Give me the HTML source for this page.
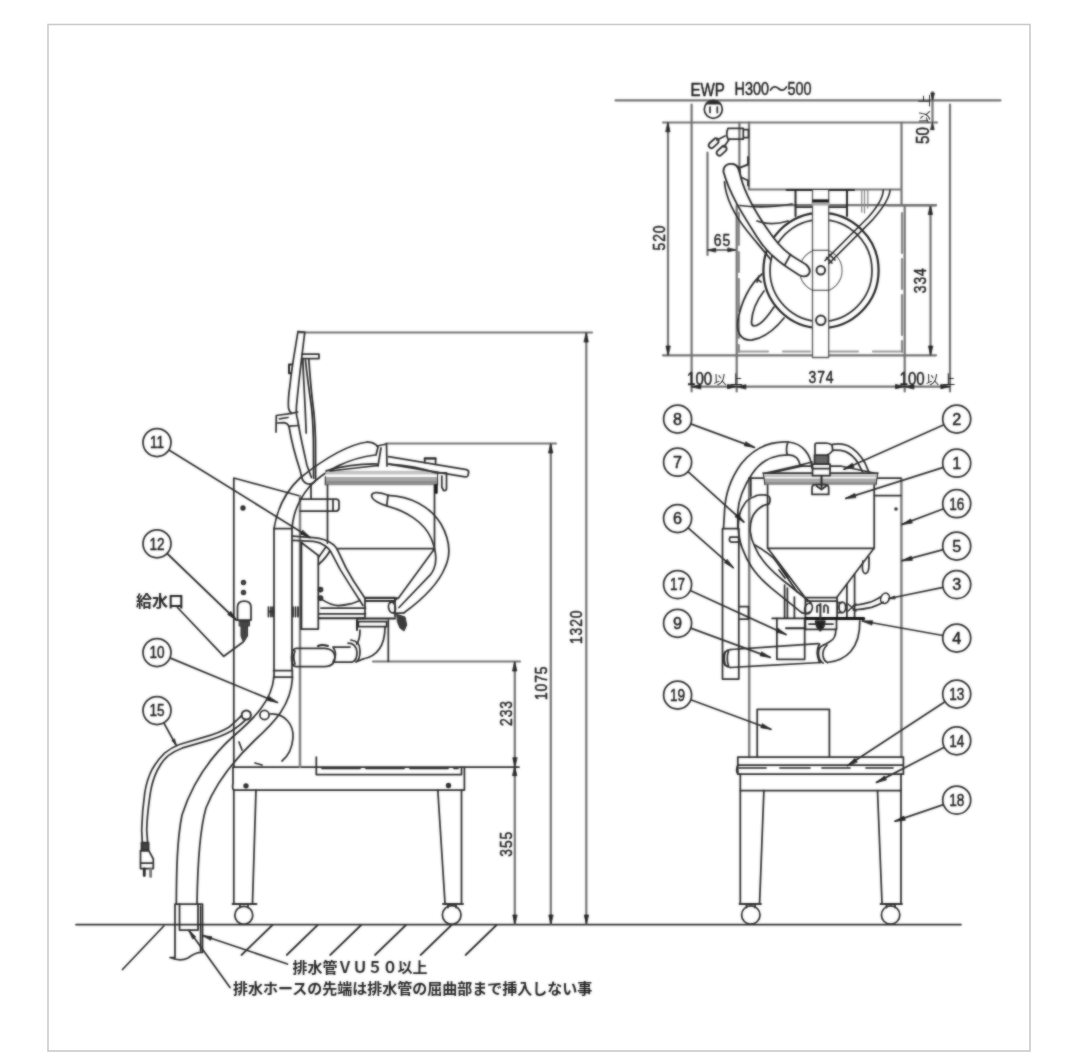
<!DOCTYPE html>
<html><head><meta charset="utf-8"><title>drawing</title>
<style>
html,body{margin:0;padding:0;background:#fff;}
body{width:1080px;height:1052px;overflow:hidden;font-family:"Liberation Sans",sans-serif;}
svg{display:block}
.t{font-family:"Liberation Sans",sans-serif;fill:#1c1c1c;stroke:#1c1c1c;stroke-width:0.5}
.j{font-family:"Liberation Sans","Noto Sans CJK JP",sans-serif;fill:#222;stroke:none}
.g{stroke:#2c2c2c;stroke-width:1.75;fill:none;stroke-linecap:round;stroke-linejoin:round}
.d{stroke:#727272;stroke-width:2.2}
.k{stroke:#222;stroke-width:2}
</style></head><body>
<svg width="1080" height="1052" viewBox="0 0 1080 1052">
<rect x="0" y="0" width="1080" height="1052" fill="#fff"/>
<rect x="48" y="24.5" width="982" height="1026.5" fill="none" stroke="#cbcbcb" stroke-width="1.6"/>
<g class="g" filter="url(#soft)">
<defs><filter id="soft" filterUnits="userSpaceOnUse" x="0" y="0" width="1080" height="1052" color-interpolation-filters="sRGB"><feGaussianBlur in="SourceGraphic" stdDeviation="0.9" result="b"/><feComposite in="b" in2="SourceGraphic" operator="arithmetic" k1="0" k2="0.6" k3="0.4" k4="0"/></filter></defs>
<!-- p_left -->
<path d="M76,924.5 H961"/>
<path d="M163.8,926 L122.5,969.5"/>
<path d="M272.5,925 L241.5,955"/>
<path d="M317.7,925 L286.7,955"/>
<path d="M361.2,925 L330.2,955"/>
<path d="M406.0,925 L375.0,955"/>
<path d="M451.6,925 L420.6,955"/>
<path d="M496.6,925 L465.6,955"/>
<g class="d">
<path d="M300,332.5 H592"/>
<path d="M386,443.5 H556"/>
<path d="M373,661.5 H520"/>
<path d="M586.3,333 V924"/>
<path d="M550.8,444 V924"/>
<path d="M514.8,662 V924"/>
</g>
<path d="M586.3,333.0 L588.3,342.0 L584.3,342.0 Z" fill="#222" stroke="#222" stroke-width="0.8"/>
<path d="M586.3,924.0 L584.3,915.0 L588.3,915.0 Z" fill="#222" stroke="#222" stroke-width="0.8"/>
<path d="M550.8,444.0 L552.8,453.0 L548.8,453.0 Z" fill="#222" stroke="#222" stroke-width="0.8"/>
<path d="M550.8,924.0 L548.8,915.0 L552.8,915.0 Z" fill="#222" stroke="#222" stroke-width="0.8"/>
<path d="M514.8,662.0 L516.8,671.0 L512.8,671.0 Z" fill="#222" stroke="#222" stroke-width="0.8"/>
<path d="M514.8,766.7 L512.8,757.7 L516.8,757.7 Z" fill="#222" stroke="#222" stroke-width="0.8"/>
<path d="M514.8,766.7 L516.8,775.7 L512.8,775.7 Z" fill="#222" stroke="#222" stroke-width="0.8"/>
<path d="M514.8,924.0 L512.8,915.0 L516.8,915.0 Z" fill="#222" stroke="#222" stroke-width="0.8"/>
<text transform="translate(582.3,627.3) rotate(-90) scale(0.88,1) translate(0.50,0)" text-anchor="middle" class="t" font-size="15.8" letter-spacing="1.00">1320</text>
<text transform="translate(547.2,683.3) rotate(-90) scale(0.88,1) translate(0.50,0)" text-anchor="middle" class="t" font-size="15.8" letter-spacing="1.00">1075</text>
<text transform="translate(511.6,713.5) rotate(-90) scale(0.88,1) translate(0.50,0)" text-anchor="middle" class="t" font-size="15.8" letter-spacing="1.00">233</text>
<text transform="translate(511.6,844.2) rotate(-90) scale(0.88,1) translate(0.50,0)" text-anchor="middle" class="t" font-size="15.8" letter-spacing="1.00">355</text>
<path d="M233.8,767 H519"/>
<path d="M233,767 V784 Q232,787 233.5,790 H464.4 V767"/>
<path d="M316.3,757 V774.5 H461.5 V767"/>
<path d="M322,768.3 H458" stroke-dasharray="38 6"/>
<path d="M233.8,790 L233.8,903 M256,790 L252.5,903"/>
<path d="M461.5,790 V903 M437.8,790 L445,903"/>
<path d="M232.5,904 H256.5 M443,904 H463" stroke-width="1.8"/><path d="M240,904 V907.5 M248,904 V907.5 M448,904 V907.5 M456,904 V907.5"/>
<circle cx="243.8" cy="915.3" r="9"/><circle cx="451.7" cy="915" r="9.3"/>
<circle cx="246" cy="785.8" r="1.8" fill="#333"/><circle cx="448.5" cy="785.5" r="1.8" fill="#333"/>
<path d="M233.8,767 V478 L300,496"/>
<path d="M300,496 V767" stroke="#808080" stroke-width="2.5"/>
<circle cx="243" cy="508" r="1.8" fill="#333"/><circle cx="243.5" cy="582.5" r="1.8" fill="#555"/><circle cx="243.5" cy="592.5" r="1.8" fill="#555"/>
<path d="M237.5,620 V607 Q237.5,601 244.2,601 Q251,601 251,607 V620 Z"/>
<path d="M239.5,621 H249.5 V626 H247.5 V636 L243.5,642.5 L241,636 V626 H239.5 Z" fill="#444" stroke-width="1"/>
<path d="M274,528.5 V670.5 M292,528.5 V670.5 M274,528.5 H292 M273.5,670.5 H292.5 M273.5,677 H292.5 M274,670.5 V677.5 M292.3,670.5 V677.5"/>
<path d="M268.5,607 V616.5 M271,607 V616.5 M273,607 V616.5 M268.5,611.5 H274" /><path d="M293,607 V616.5 M295.5,607 V616.5 M298,607 V616.5"/>
<path d="M367.5,442 C345,445 320,462 300,478 C285,492 277,510 274,528.5"/>
<path d="M375,455 C350,458 325,470 310,486 C298,500 293,515 292,528.5"/>
<path d="M367.5,442 C372,442 376,444 378,447 L376,455"/>
<path d="M377,446 L386.5,444 L387,466 M381,448 L378,466"/>
<path d="M298,331.6 L304.8,332 L301.9,356 C300,372 298,390 296.5,405.6 C296,412 297,418 297.7,420 C300,435 304,452 307,465.5 L311.4,477.5"/>
<path d="M298,331.6 C295,350 292,365 290,385 C288.5,395 288,402 288.5,408 C289.5,412 291,413 291.7,413.3"/>
<path d="M289,426.5 C291.5,442 296,458 300.2,470.6 L301.6,477 Q303,483 308,484 Q313,484.5 315.5,480.5"/>
<path d="M291.7,364.5 H289 V373.2 H290.8" class="k"/>
<path d="M297.6,412 L291.7,413.3 L276.3,415.5 L276,432 M277.5,423 L284,422.6 Q287.5,423 289,426.5 M290,426.2 L298.6,425.5 M279.5,418.8 L288,417.5"/>
<path d="M302,354.2 H319 V358.5 H302.5"/>
<path d="M302.8,359.4 C303.5,380 305,400 306.2,433"/>
<path d="M308.8,359.4 C310,375 311,390 313,405.6 C314.5,415 315,425 315.5,440 L315.6,479"/>
<path d="M305.4,360 C307,375 309,390 311.3,405.6 C312.5,415 313,425 313.4,440 L313.6,478"/>
<rect x="325.5" y="470.8" width="112" height="3.7" fill="#c2c2c2" stroke="none"/>
<rect x="325.3" y="477" width="112.3" height="4" fill="#a6a6a6" stroke="none"/>
<rect x="325.3" y="481" width="112.3" height="4.2" fill="#8c8c8c" stroke="none"/>
<path d="M325.3,476.5 V485 M437.6,472 V485" stroke-width="1.1"/>
<path d="M327.5,485 V543 M434.5,485 V548.7 H338 M434.5,548.7 L398.3,598.3 M365,598 H398.3 M365,601 H395"/>
<path d="M388.6,456.6 L466.5,469.6 Q469,470.5 468.6,472.5 L468,475.5 Q467.3,477.3 465,476.8 L388.6,464.2"/>
<path d="M424.7,462.5 V458.3 H435.6 V464.3"/><path d="M424.7,458.6 H435.6" stroke-width="2" stroke="#222"/>
<path d="M326,470.8 Q352,463.5 377,464 M389,464.2 Q415,466 436,473 M330,471 L378,465.5"/>
<path d="M438,472.8 H446.5 V489 Q446,491 443.5,490.5 L441.8,487 V476"/>
<path d="M436.3,485.5 V492.5" stroke-width="2.8" stroke="#111"/>
<path d="M388,495.3 C378,491 371,492.5 371.7,496 C372,500 380,504 386.7,505.8 C406,511 424,522 431,538 C436,550 437,561 434,568.5 C432.5,572.5 431,574 430,575.2 L399,607.5"/>
<path d="M388,495.3 C410,496 430,506 441,524 C450,540 451,555 445,567.5 C440,580 427,596 404,612.8"/>
<path d="M388,495.3 L386.7,505.8"/>
<path d="M300,499 H336 Q339,499 339,502 V508 Q339,511 336,511 H300 M333,499 V511"/>
<path d="M311,484 V499"/>
<path d="M301.6,542.8 L318.3,555.5 V629 H301.6"/>
<path d="M301.3,543 V629" class="k"/>
<path d="M292.6,536.2 L313.5,537.6 C320,538 328,540.5 333.5,544.7 C336,547 337.5,549.5 338.2,551.4 L345.8,567.5 L353.4,580.8 L364.8,598" stroke-width="1.8"/>
<path d="M292.6,540.4 L313.5,541.4 C318,542 322,543.5 325,545.7 C327.5,547.5 329.5,549.5 330.6,551.4 L340.1,569.4 L349.6,584.6 L363,605.5"/>
<path d="M318.5,557.5 Q323,551 325.5,547.5 M318.5,564.5 Q326,558 329.5,551.5"/>
<path d="M321,608 H365.5 M319,613.8 H365.5"/>
<path d="M319,618.3 H365" stroke-width="1.9" stroke="#222"/>
<path d="M321,598.9 C327,603 333,605.5 338.2,605.6 C343,605.5 348,604.5 351.5,603.7 L360,600.5"/>
<circle cx="320.5" cy="589.5" r="2" fill="#444"/><circle cx="320.5" cy="598" r="2" fill="#444"/>
<path d="M365,597.5 H395 V616.7 M365,597.5 V616.7 M365,600.8 H395"/>
<path d="M358,618.5 H395" class="k"/>
<path d="M358.3,621.7 H386.7 V626.7 H358.3 Z"/>
<path d="M357,620 V630" class="k" stroke-width="3"/>
<path d="M385,626.7 C385,645 378,656 363,659"/>
<path d="M360,630 C360,638 359,641 356.7,644"/>
<path d="M348,643 Q356,643 357,652 Q357,661 352,662 M351,640 Q360,641 360,651 Q360,660 356,662 L363,659"/>
<path d="M333,647 H350 M333,662 H352 M333,647 Q338,654 333,662"/>
<path d="M296,648.3 H325 Q335,649 335,657.5 Q335,666 325,666.7 H296 Q291.5,666 291.5,657.5 Q291.5,649 296,648.3 Z"/>
<path d="M295,651 Q292.5,657 295,664"/>
<path d="M318,646 Q322,644 328,646" class="k"/>
<path d="M388.3,620 V661.3"/>
<ellipse cx="392" cy="607.6" rx="3.4" ry="5.4" transform="rotate(-12 392 607.6)"/><path d="M393,602 L397,598.5 M394,613.3 L404,612.8"/>
<path d="M397,614.5 L405,617 L406.7,625 L404,631 L400,628 L397.5,622 Z" fill="#3a3a3a" stroke-width="1"/>
<path d="M273.8,677.5 C272,700 255,718 232.5,737 C205,762 190,790 182,815 C177,840 176.5,870 176.3,904"/>
<path d="M292.5,677.5 C291,705 275,722 255,740 C232,762 215,785 206,808 C199,832 197.5,870 197,904"/>
<path d="M175,904 H202.5 V952.5 C197,952 192,955 188,958 C182,961 176,960 170,957.5 L175,957.5 Z"/>
<path d="M179.5,904 V930 H198 V904"/>
<path d="M200.6,906 V951" stroke-width="1.7"/>
<circle cx="246.3" cy="715" r="4.6" stroke-width="2"/><circle cx="264.5" cy="715" r="4.6"/>
<path d="M270,714 C285,713 294,725 293,738 C292,750 287,757 282,761"/>
<path d="M239,742 L242,750 M255,763 L262,765"/>
<path d="M241.2,716 C237,720 233,724 228.9,727.2 C221,732 212,735 204.2,737.1 L179.4,744.5 C174,746.5 169,749.5 164.6,753.2 C159.5,758 155.5,763.5 152.2,769.2 C148.5,776.5 146,785 144.8,792.7 C143,805 142,818 141.7,830 L142.3,842.6"/>
<path d="M245,720.4 C241,724.5 236,728 231.4,730.9 C223,735.5 214.5,738.5 206.6,740.8 L181.9,748.2 C177,750 172.5,752.5 168.3,755.6 C163.5,759.5 160,765 157.2,770.5 C153.5,778 151.5,785.5 150.4,792.7 C148.5,805 147,818 146.7,830 L147.6,842.6"/>
<path d="M141.5,842.6 H148.6 V850.6 H141.5 Z" fill="#444"/>
<path d="M140.5,850.6 H148.8 L153.3,859 V868.6 H140.5 Z"/>
<path d="M144.3,869 V875.5" stroke-width="2.8" stroke="#222"/><path d="M150.6,869 V876.5" stroke-width="2.8" stroke="#777"/>
<path d="M141,863 H153" />
<!-- p_top -->
<g class="d">
<path d="M615.5,100.3 H1000.5"/>
<path d="M691.6,104.5 V391.5 M950,104.5 V391.5"/>
<path d="M663,122.5 H937 M663,355.3 H936"/>
<path d="M668,123 V355"/>
<path d="M887,205.3 H936 M930.5,205.5 V355"/>
<path d="M707.5,152.5 V255 M707.5,250 H736"/>
<path d="M691.6,386.7 H950 M736.7,356 V391.5 M904.7,356 V391.5"/>
<path d="M932.5,92 V122.5"/>
</g>
<path d="M668.0,122.8 L670.0,131.8 L666.0,131.8 Z" fill="#222" stroke="#222" stroke-width="0.8"/>
<path d="M668.0,355.0 L666.0,346.0 L670.0,346.0 Z" fill="#222" stroke="#222" stroke-width="0.8"/>
<path d="M930.5,205.6 L932.5,214.6 L928.5,214.6 Z" fill="#222" stroke="#222" stroke-width="0.8"/>
<path d="M930.5,355.0 L928.5,346.0 L932.5,346.0 Z" fill="#222" stroke="#222" stroke-width="0.8"/>
<path d="M707.7,250.0 L715.7,248.2 L715.7,251.8 Z" fill="#222" stroke="#222" stroke-width="0.8"/>
<path d="M735.8,250.0 L727.8,251.8 L727.8,248.2 Z" fill="#222" stroke="#222" stroke-width="0.8"/>
<path d="M691.8,386.7 L700.8,384.7 L700.8,388.7 Z" fill="#222" stroke="#222" stroke-width="0.8"/>
<path d="M736.5,386.7 L727.5,388.7 L727.5,384.7 Z" fill="#222" stroke="#222" stroke-width="0.8"/>
<path d="M736.9,386.7 L745.9,384.7 L745.9,388.7 Z" fill="#222" stroke="#222" stroke-width="0.8"/>
<path d="M904.5,386.7 L895.5,388.7 L895.5,384.7 Z" fill="#222" stroke="#222" stroke-width="0.8"/>
<path d="M904.9,386.7 L913.9,384.7 L913.9,388.7 Z" fill="#222" stroke="#222" stroke-width="0.8"/>
<path d="M949.8,386.7 L940.8,388.7 L940.8,384.7 Z" fill="#222" stroke="#222" stroke-width="0.8"/>
<path d="M932.5,100.0 L930.8,93.0 L934.2,93.0 Z" fill="#222" stroke="#222" stroke-width="0.8"/>
<path d="M932.5,122.7 L934.2,129.7 L930.8,129.7 Z" fill="#222" stroke="#222" stroke-width="0.8"/>
<text transform="translate(664.5,238.0) rotate(-90) scale(0.88,1) translate(0.50,0)" text-anchor="middle" class="t" font-size="15.8" letter-spacing="1.00">520</text>
<text transform="translate(926.3,280.7) rotate(-90) scale(0.88,1) translate(0.50,0)" text-anchor="middle" class="t" font-size="15.8" letter-spacing="1.00">334</text>
<text transform="translate(722.0,246.0) scale(0.88,1) translate(0.50,0)" text-anchor="middle" class="t" font-size="15.8" letter-spacing="1.00">65</text>
<text transform="translate(821.0,382.7) scale(0.88,1) translate(0.50,0)" text-anchor="middle" class="t" font-size="15.8" letter-spacing="1.00">374</text>
<circle cx="713.3" cy="109.3" r="9"/>
<path d="M706.5,103.8 Q713.3,98.5 720,103.8 Z" fill="#222" stroke-width="1.5"/>
<path d="M710,107 V112.5 M717.3,107 V112.5"/>
<path class="d" d="M739.4,122.5 V205 M749,122.5 V189.5 H901.5 V122.5 M901.5,189.5 V205"/>
<path class="d" d="M736.7,205 V356 M904.7,205 V356"/>
<path class="d" d="M740,205.2 H936"/>
<path d="M738.8,213 V352" stroke="#888" stroke-width="2.2" stroke-dasharray="32 7 20 7"/>
<path d="M902,213 V352" stroke="#888" stroke-width="2.2" stroke-dasharray="40 6 30 6"/>
<path d="M740,351.5 H900" stroke="#999" stroke-width="2.2" stroke-dasharray="28 15 27 20"/>
<path d="M730,164.3 Q734.5,164.5 739.5,167.8 L748,164.5 V157 M739.5,168 L740.5,177 L748,180.5 V185.5" stroke-width="1.9"/>
<path d="M728,128.3 H743.3 V139.2 H728 Q725.5,133.7 728,128.3 Z M743.3,129.5 H748.5 V137.5 H743.3"/>
<rect x="-5.5" y="-2.6" width="11.5" height="5.6" rx="2.8" transform="translate(713.3,143.3) rotate(-42)" stroke-width="1.9"/>
<rect x="-5.5" y="-2.6" width="11.5" height="5.6" rx="2.8" transform="translate(721.3,150.8) rotate(-42)" stroke-width="1.9"/>
<path d="M717,140 L725,136 M724,147 L729,139.5"/>
<path d="M786.7,190 H854" class="k"/>
<path d="M795.5,190 V216 M847,190 V216" class="k" stroke-width="2.4"/>
<path d="M861.7,190 V212 M864.5,190 V213 M867.8,190 V208" stroke="#8a8a8a" stroke-width="1.3"/>
<path d="M796,207 H812 M829,207 H847"/>
<circle cx="821" cy="270.5" r="57.6" stroke-width="2.2" stroke="#222"/>
<circle cx="821" cy="270.5" r="51"/>
<circle cx="820.8" cy="270.5" r="21.3" stroke="#666" stroke-width="1.1"/>
<path d="M812.5,190 V357.5 H828.7 V190" fill="#fff" stroke="#555" stroke-width="1.3"/>
<path d="M812.5,201 H828.7" stroke="#111" stroke-width="3.2" stroke-linecap="butt"/>
<path d="M812.5,250.3 H828.7 M812.5,290.3 H828.7" stroke-width="1.1"/>
<path d="M813,204 H828.5" stroke="#aaa" stroke-width="3"/>
<circle cx="820.8" cy="270.3" r="4.3" stroke-width="2" fill="#fff"/>
<circle cx="820.8" cy="320.3" r="4.8" stroke-width="2" fill="#fff"/>
<path d="M890,190 C889.5,199 882,209 873,219.3 L829,263.5 M883.3,190 C883,199 876.5,208 868,217.5 L825,260.5" stroke-width="1.7"/>
<path d="M826.5,257.5 L832,263 M829.5,254.5 L835,260" stroke-width="1.7"/>
<path d="M723.5,172 C723,165 728,163.5 733,164 C738,164.5 739,170 741,178 C746,196 756,214 773,237 C781,248 790,255 797,259 L806,264.5 Q812,270 808.5,274.5 Q805,278 799,275 L789,268.5 C776,260 765,250 757,237 C743,215 730,195 723.5,172 Z" fill="#fff" stroke-width="1.9"/>
<path d="M790.5,254.5 L785,264.5"/>
<path d="M724.5,182 C726,200 735,216 748,232 C756,242 765,252 771,260" stroke-width="1.8"/>
<path d="M740,205.5 C760,208.5 775,207 792,204"/>
<path d="M757,221 C768,225 778,224 788,221"/>
<path d="M762,274 C750,284 741,302 738,320 C736,334 742,341 752,340 C764,338 776,328 784,318" stroke-width="1.8"/>
<path d="M764,291 C757,300 752,312 751.5,322 C751.5,327 755,327 760,323.5 C765,320 770,313 774,307" stroke-width="1.8"/>
<path d="M757,279 L761,282 M759,276 L757,282"/>
<!-- p_front -->
<path d="M749.2,478.5 V757 M901.4,479 V757" stroke="#808080" stroke-width="2.5"/>
<path d="M749,478.2 H763.5 M877.8,478.2 H901 M874.5,495.6 H901"/>
<circle cx="896" cy="509" r="0.9" fill="#444"/>
<path d="M722.5,528.5 V679 H738.8 V528.5 M722.5,528.5 H738.8"/>
<path d="M739.5,606.5 H748.5 V619 H739.5"/>
<path d="M730,537 H737 Q739.5,537 739.5,539.5 Q739.5,542 737,542 H731 Q728.5,541 730,537 Z"/>
<path d="M763.2,473 H877.8"/>
<rect x="763.5" y="474.3" width="114" height="2.8" fill="#c4c4c4" stroke="none"/>
<rect x="764" y="478.5" width="113" height="3" fill="#a6a6a6" stroke="none"/>
<rect x="764.5" y="481.5" width="112" height="3.4" fill="#8c8c8c" stroke="none"/>
<path d="M763.2,473 L765,484.8 M877.8,473 L876,484.8" stroke-width="1.1"/>
<path d="M773,472.5 L802.8,466 H840.4 L874,473 M766,473 L803,464.5 M770,473 L812,462"/>
<path d="M767.6,485 V548.3 H874.2 V485"/>
<path d="M767.8,548.3 L805.4,598 M874,548.3 L837.1,597"/>
<path d="M805.4,597.5 H837.1 V617.8 M805.4,597.5 V617.8 M805.4,601 H837.1"/>
<path d="M815,454.5 V445 Q815,443 817,443 H826 Q830,443.5 832,445 L832.8,450.5 Q830,454 827.4,454.8"/>
<path d="M814.5,455 H828.5 V464 H814.5 Z" fill="#666"/>
<path d="M812.5,464 H830 V475.6 H812.5 Z" fill="#fff"/>
<path d="M812.5,468.5 H830" />
<path d="M832.6,444.4 C838,443.5 844,444 848,445.7 C855,449 861,456 865,463 L869,472.3"/>
<path d="M832.6,450.3 C838,450 842,450.5 845.6,451.6 C851,454 855,458 858,463 L862.4,471.7"/>
<path d="M821.5,476 V487" class="k" stroke-width="2.4"/>
<path d="M812,494.4 V488 Q812,484.6 815.5,484.6 H825 Q828.7,484.6 828.7,488 V494.4 Z"/>
<path d="M816.5,486 L821.5,489.5 L826,486" stroke-width="2"/>
<path d="M811.9,467.8 C811,455 803,443.5 788.5,442 C768,441 752,450 741,464 C731,478 725,495 724.5,512 L723.5,528.5"/>
<path d="M800.2,465.2 C799,458 794,455 788.5,454.8 C772,454.5 760,462 752,474 C744,486 738.5,500 737.8,512 V528.5"/>
<path d="M788,442 Q785.5,448 787.2,454.8"/>
<path d="M765,495 C760,494.5 756,495.5 754.8,496.5 C750,498 746.5,500.5 744.5,503.9 C741,509 739.5,513 739.3,517.1 C738,522 738,527 738.6,531.9 C739,537.5 740,543 742.2,548.1 C744.5,554.5 747.5,561 751.8,567.2 C757,575 763.5,581.5 771,587.8 L801.9,612.9"/>
<path d="M768.8,503.9 C765,504.5 762,506 759.2,508.3 C756,511 753,515 751.8,518.6 C750.3,523 750,527.5 750.3,531.9 C750.8,537 752.5,542 754.8,546.6 C757,552 760,557 763.6,561.3 C768.5,568 775,573.5 781.3,579 L810.7,602.5"/>
<path d="M765,495 Q770.5,495.5 770,500 Q769.8,503.5 768.8,503.9"/>
<path d="M754.8,545 C762,549 768,553 773.9,558.4 C780,566 790,582 797.5,592.2"/>
<path d="M750.8,478 V496"/>
<ellipse cx="808.5" cy="608.5" rx="3.6" ry="5.4" transform="rotate(20 808.5 608.5)"/>
<path d="M802,612.5 Q806,615 810,612"/>
<path d="M784.6,585 V618 M787.4,588 V618 M794.4,597 V618"/>
<path d="M846.9,584 V618 M854.6,574 V618"/>
<path d="M779,570 L785,578 M782,569 L788,577"/>
<path d="M863,561 Q861,572 865,573.5 Q869,573.5 869,565 L869,557"/>
<path d="M772.3,618.4 H806" stroke-width="1.8" stroke="#222"/>
<path d="M805.4,618.6 H863.7" stroke-width="3" stroke="#111"/>
<path d="M805.4,620.4 V629.4 H836.5 V620.4 M809,624 H833"/>
<path d="M820.4,604 V619" stroke-width="2"/>
<path d="M815.7,621 Q815.7,627 820.3,630.7 Q824.8,627 824.8,621 Z" fill="#222"/>
<path d="M817,612 V606 Q819,603.5 820.4,606 M824,612 V606 Q826,604 828,607 V613"/>
<ellipse cx="842.3" cy="607.3" rx="3.4" ry="5.3"/>
<path d="M838,602.5 H842 M838,612.5 H842"/>
<path d="M848,604 L856,611 M848,611 L856,604" stroke-width="1.6"/>
<path d="M853.3,605.5 C860,605 866,603.5 870.2,602.2 C875,600.5 878,598.5 880.6,597"/>
<path d="M853.3,610 C861,609.5 867,608.5 871.5,607.4 C877,605.5 881,603.5 883.2,602.2"/>
<ellipse cx="885" cy="598.3" rx="4.2" ry="5.3" transform="rotate(25 885 598.3)" stroke-width="1.6"/>
<path d="M776.9,618.4 V659.3 H804.7 V618.4"/>
<path d="M786,628.2 H804.7" stroke-width="2" stroke="#222"/>
<path d="M730.7,649.5 L818.3,643.7 M730.7,667.5 L821,662.5"/>
<path d="M730.7,649.5 Q723.5,650 723.5,658.5 Q723.5,667 730.7,667.5 M728.5,651 Q726,658 728.5,666" />
<path d="M725,652 Q723.2,658 725,665" stroke-width="2"/>
<path d="M859.8,621 C860,633 858,643 850.7,651.5 C845,658 837,661.5 827.4,662.5"/>
<path d="M835.8,629.4 C836,636 833,640 830,641.5 C827,643.5 825,644.5 823.5,645"/>
<path d="M823.5,645 Q818,647 818.5,654 Q819,661 823,663 M827,645 Q822,650 823,656 Q824,661 827.4,662.5 M819.5,644 Q815,652 819.5,662.5"/>
<path d="M757.2,757 V709.3 H829.4 V757"/>
<path d="M737.8,757 H903.4 V774.2 H737.8 Z M737.8,765 H903.4"/>
<path d="M739,768 H902" stroke="#555" stroke-width="1.8" stroke-dasharray="27 14 30 12 28 16"/>
<path d="M737.8,765 Q735.5,770 737.8,774.2"/>
<path d="M740.3,774.2 V790.5 H901 V774.2"/>
<path d="M740.3,790.5 V903 M763.9,790.5 L759.6,903 M901,790.5 V903 M877.5,790.5 L882,903"/>
<path d="M739.5,904 H761 M880.5,904 H902" stroke-width="1.8"/><path d="M746.5,904 V907.5 M755,904 V907.5 M886.5,904 V907.5 M895,904 V907.5"/>
<circle cx="750.8" cy="915" r="9.2"/><circle cx="890.6" cy="915" r="9.2"/>
<!-- p_labels -->
<path d="M168.9,449.9 L310.0,537.5"/><path d="M310.0,537.5 L300.4,533.9 L302.6,530.5 Z" fill="#222" stroke="#222" stroke-width="0.8"/>
<circle cx="157.0" cy="442.5" r="14.0" fill="#fff"/><text transform="translate(157.0,448.3) scale(0.84,1)" text-anchor="middle" class="t" font-size="16.2">11</text>
<path d="M167.1,553.5 L236.3,620.0"/><path d="M236.3,620.0 L227.7,614.5 L230.5,611.6 Z" fill="#222" stroke="#222" stroke-width="0.8"/>
<circle cx="157.0" cy="543.8" r="14.0" fill="#fff"/><text transform="translate(157.0,549.6) scale(0.84,1)" text-anchor="middle" class="t" font-size="16.2">12</text>
<path d="M169.9,657.9 L277.5,702.5"/><path d="M277.5,702.5 L267.5,700.5 L269.0,696.8 Z" fill="#222" stroke="#222" stroke-width="0.8"/>
<circle cx="157.0" cy="652.5" r="14.0" fill="#fff"/><text transform="translate(157.0,658.3) scale(0.84,1)" text-anchor="middle" class="t" font-size="16.2">10</text>
<path d="M163.8,722.8 L176.0,745.0"/><path d="M176.0,745.0 L171.9,740.4 L174.3,739.1 Z" fill="#222" stroke="#222" stroke-width="0.8"/>
<circle cx="157.0" cy="710.5" r="14.0" fill="#fff"/><text transform="translate(157.0,716.3) scale(0.84,1)" text-anchor="middle" class="t" font-size="16.2">15</text>
<path d="M690.7,423.9 L754.4,447.4"/><path d="M754.4,447.4 L744.3,445.8 L745.7,442.1 Z" fill="#222" stroke="#222" stroke-width="0.8"/>
<circle cx="677.6" cy="419.0" r="14.0" fill="#fff"/><text transform="translate(677.6,424.8) scale(1.00,1)" text-anchor="middle" class="t" font-size="16.2">8</text>
<path d="M688.0,471.6 L743.8,522.0"/><path d="M743.8,522.0 L735.0,516.8 L737.7,513.8 Z" fill="#222" stroke="#222" stroke-width="0.8"/>
<circle cx="677.6" cy="462.2" r="14.0" fill="#fff"/><text transform="translate(677.6,468.0) scale(1.00,1)" text-anchor="middle" class="t" font-size="16.2">7</text>
<path d="M688.1,527.8 L733.2,567.7"/><path d="M733.2,567.7 L724.4,562.6 L727.0,559.6 Z" fill="#222" stroke="#222" stroke-width="0.8"/>
<circle cx="677.6" cy="518.5" r="14.0" fill="#fff"/><text transform="translate(677.6,524.3) scale(1.00,1)" text-anchor="middle" class="t" font-size="16.2">6</text>
<path d="M690.3,590.5 L786.0,634.5"/><path d="M786.0,634.5 L776.1,632.1 L777.8,628.5 Z" fill="#222" stroke="#222" stroke-width="0.8"/>
<circle cx="677.6" cy="584.6" r="14.0" fill="#fff"/><text transform="translate(677.6,590.4) scale(0.84,1)" text-anchor="middle" class="t" font-size="16.2">17</text>
<path d="M690.7,628.1 L770.2,657.4"/><path d="M770.2,657.4 L760.1,655.8 L761.5,652.1 Z" fill="#222" stroke="#222" stroke-width="0.8"/>
<circle cx="677.6" cy="623.3" r="14.0" fill="#fff"/><text transform="translate(677.6,629.1) scale(1.00,1)" text-anchor="middle" class="t" font-size="16.2">9</text>
<path d="M690.7,699.8 L770.9,729.3"/><path d="M770.9,729.3 L760.8,727.7 L762.2,724.0 Z" fill="#222" stroke="#222" stroke-width="0.8"/>
<circle cx="677.6" cy="695.0" r="14.0" fill="#fff"/><text transform="translate(677.6,700.8) scale(0.84,1)" text-anchor="middle" class="t" font-size="16.2">19</text>
<path d="M943.9,424.7 L844.0,469.2"/><path d="M844.0,469.2 L852.3,463.3 L853.9,467.0 Z" fill="#222" stroke="#222" stroke-width="0.8"/>
<circle cx="956.7" cy="419.0" r="14.0" fill="#fff"/><text transform="translate(956.7,424.8) scale(1.00,1)" text-anchor="middle" class="t" font-size="16.2">2</text>
<path d="M943.4,467.4 L845.8,498.4"/><path d="M845.8,498.4 L854.7,493.5 L855.9,497.3 Z" fill="#222" stroke="#222" stroke-width="0.8"/>
<circle cx="956.7" cy="463.2" r="14.0" fill="#fff"/><text transform="translate(956.7,469.0) scale(1.00,1)" text-anchor="middle" class="t" font-size="16.2">1</text>
<path d="M943.6,508.7 L902.1,524.4"/><path d="M902.1,524.4 L910.7,519.0 L912.2,522.7 Z" fill="#222" stroke="#222" stroke-width="0.8"/>
<circle cx="956.7" cy="503.7" r="14.0" fill="#fff"/><text transform="translate(956.7,509.5) scale(0.84,1)" text-anchor="middle" class="t" font-size="16.2">16</text>
<path d="M943.2,549.6 L902.1,560.7"/><path d="M902.1,560.7 L911.2,556.2 L912.3,560.0 Z" fill="#222" stroke="#222" stroke-width="0.8"/>
<circle cx="956.7" cy="546.0" r="14.0" fill="#fff"/><text transform="translate(956.7,551.8) scale(1.00,1)" text-anchor="middle" class="t" font-size="16.2">5</text>
<path d="M943.0,587.4 L889.0,598.5"/><path d="M889.0,598.5 L894.6,596.0 L895.1,598.6 Z" fill="#222" stroke="#222" stroke-width="0.8"/>
<circle cx="956.7" cy="584.6" r="14.0" fill="#fff"/><text transform="translate(956.7,590.4) scale(1.00,1)" text-anchor="middle" class="t" font-size="16.2">3</text>
<path d="M942.9,635.5 L862.4,621.0"/><path d="M862.4,621.0 L872.6,620.8 L871.9,624.7 Z" fill="#222" stroke="#222" stroke-width="0.8"/>
<circle cx="956.7" cy="638.0" r="14.0" fill="#fff"/><text transform="translate(956.7,643.8) scale(1.00,1)" text-anchor="middle" class="t" font-size="16.2">4</text>
<path d="M945.0,701.7 L847.6,765.6"/><path d="M847.6,765.6 L854.9,758.4 L857.1,761.8 Z" fill="#222" stroke="#222" stroke-width="0.8"/>
<circle cx="956.7" cy="694.0" r="14.0" fill="#fff"/><text transform="translate(956.7,699.8) scale(0.84,1)" text-anchor="middle" class="t" font-size="16.2">13</text>
<path d="M944.3,747.2 L876.5,782.4"/><path d="M876.5,782.4 L884.5,776.0 L886.3,779.6 Z" fill="#222" stroke="#222" stroke-width="0.8"/>
<circle cx="956.7" cy="740.8" r="14.0" fill="#fff"/><text transform="translate(956.7,746.6) scale(0.84,1)" text-anchor="middle" class="t" font-size="16.2">14</text>
<path d="M943.5,804.6 L895.1,821.2"/><path d="M895.1,821.2 L903.9,816.1 L905.2,819.9 Z" fill="#222" stroke="#222" stroke-width="0.8"/>
<circle cx="956.7" cy="800.1" r="14.0" fill="#fff"/><text transform="translate(956.7,805.9) scale(0.84,1)" text-anchor="middle" class="t" font-size="16.2">18</text>
<text x="136" y="606.6" class="j" font-size="16" font-weight="700">給水口</text>
<path d="M177.5,607.5 L223.8,656.3 L242.5,642.5"/>
<text x="292.5" y="972.9" class="j" font-size="15" font-weight="700">排水管ＶＵ５０以上</text>
<text x="233" y="994" class="j" font-size="15" font-weight="700">排水ホースの先端は排水管の屈曲部まで挿入しない事</text>
<path d="M287.5,964.0 L202.8,935.5"/><path d="M202.8,935.5 L211.9,936.8 L210.8,940.0 Z" fill="#222" stroke="#222" stroke-width="0.8"/>
<path d="M230.0,987.5 L189.0,930.5"/><path d="M189.0,930.5 L195.6,936.8 L192.9,938.8 Z" fill="#222" stroke="#222" stroke-width="0.8"/>
<text transform="translate(690.5,95.5) scale(0.84,1)" text-anchor="start" class="t" font-size="18">EWP</text>
<text transform="translate(734.5,95.0) scale(0.80,1)" text-anchor="start" class="t" font-size="18">H300</text>
<path d="M770.5,90 Q774,84.5 778.5,88.5 Q783,92.5 786.5,87" stroke="#2a2a2a" stroke-width="1.7"/>
<text transform="translate(787.5,95.0) scale(0.80,1)" text-anchor="start" class="t" font-size="18">500</text>
<text transform="translate(687.0,384.7) scale(0.84,1)" text-anchor="start" class="t" font-size="18">100</text>
<text x="713.5" y="383.7" class="j" font-size="13" letter-spacing="3.2">以上</text>
<text transform="translate(899.5,384.7) scale(0.84,1)" text-anchor="start" class="t" font-size="18">100</text>
<text x="926" y="383.7" class="j" font-size="13" letter-spacing="3.2">以上</text>
<g transform="translate(929.3,144) rotate(-90)"><text transform="translate(0.0,0.0) scale(0.84,1)" text-anchor="start" class="t" font-size="18">50</text><text x="20.5" y="-0.8" class="j" font-size="13" letter-spacing="3.2">以上</text></g>
</g>
</svg>
</body></html>
